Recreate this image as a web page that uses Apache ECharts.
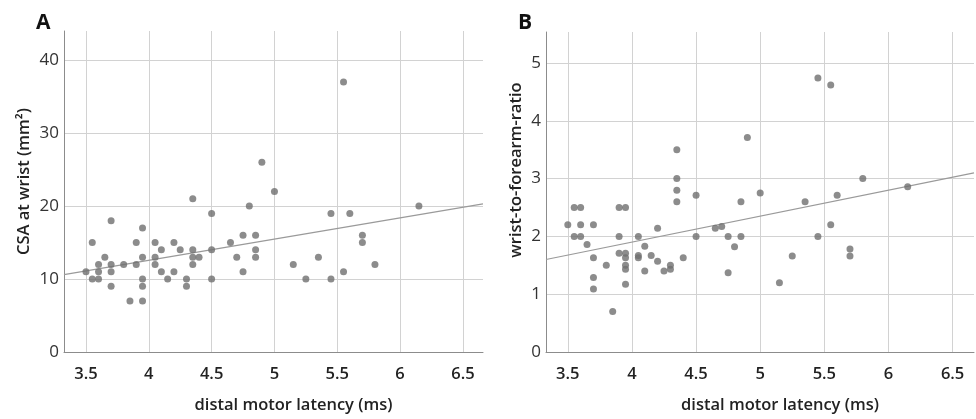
<!DOCTYPE html>
<html>
<head>
<meta charset="utf-8">
<script src="https://cdn.jsdelivr.net/npm/echarts@6/dist/echarts.min.js"></script>
<style>
  html, body { margin: 0; padding: 0; background: #fff; }
  #chart { width: 976px; height: 419px; }
</style>
</head>
<body>
<div id="chart"></div>
<script>
// panel A: distal motor latency (ms) vs CSA at wrist (mm2)
var dmlA = [3.5, 3.55, 3.55, 3.6, 3.6, 3.6, 3.65, 3.7, 3.7, 3.7, 3.7, 3.8, 3.85, 3.9, 3.9,
            3.95, 3.95, 3.95, 3.95, 3.95, 4.05, 4.05, 4.05, 4.1, 4.1, 4.15, 4.2, 4.2, 4.25,
            4.3, 4.3, 4.35, 4.35, 4.35, 4.35, 4.4, 4.5, 4.5, 4.5, 4.65, 4.7, 4.75, 4.75, 4.8,
            4.85, 4.85, 4.85, 4.9, 5.0, 5.15, 5.25, 5.35, 5.45, 5.45, 5.55, 5.55, 5.6, 5.7,
            5.7, 5.8, 6.15];
var csaA = [11, 15, 10, 10, 11, 12, 13, 18, 12, 11, 9, 12, 7, 15, 12,
            17, 13, 10, 9, 7, 15, 13, 12, 14, 11, 10, 15, 11, 14,
            10, 9, 21, 14, 13, 12, 13, 19, 14, 10, 15, 13, 16, 11, 20,
            16, 14, 13, 26, 22, 12, 10, 13, 19, 10, 11, 37, 19, 16,
            15, 12, 20];

// panel B: distal motor latency (ms) vs wrist-to-forearm-ratio
var dmlB = [3.5, 3.55, 3.6, 3.55, 3.6, 3.6, 3.65, 3.7, 3.7, 3.7, 3.7, 3.8, 3.85, 3.9, 3.95,
            3.9, 3.9, 3.95, 3.95, 3.95, 3.95, 3.95, 4.05, 4.05, 4.05, 4.1, 4.1, 4.15, 4.2,
            4.2, 4.25, 4.3, 4.3, 4.35, 4.35, 4.35, 4.35, 4.4, 4.5, 4.5, 4.65, 4.7, 4.75, 4.75,
            4.8, 4.85, 4.85, 4.9, 5.0, 5.15, 5.25, 5.35, 5.45, 5.45, 5.55, 5.55, 5.6, 5.7,
            5.7, 5.8, 6.15];
var ratioB = [2.2, 2.5, 2.5, 2.0, 2.2, 2.0, 1.86, 2.2, 1.63, 1.29, 1.09, 1.5, 0.7, 2.5, 2.5,
              2.0, 1.71, 1.71, 1.63, 1.5, 1.43, 1.17, 2.0, 1.67, 1.63, 1.83, 1.4, 1.67, 2.14,
              1.57, 1.4, 1.5, 1.43, 3.5, 3.0, 2.8, 2.6, 1.63, 2.71, 2.0, 2.14, 2.17, 2.0, 1.37,
              1.82, 2.6, 2.0, 3.71, 2.75, 1.2, 1.66, 2.6, 2.0, 4.74, 2.2, 4.62, 2.71, 1.78,
              1.66, 3.0, 2.86];

// fit lines
var fitA = [[3.325, 10.6], [6.66, 20.3]];
var fitB = [[3.33, 1.6], [6.667, 3.1]];

var xTicks = [3.5, 4, 4.5, 5, 5.5, 6, 6.5];
var yTicksA = [0, 10, 20, 30, 40];
var yTicksB = [0, 1, 2, 3, 4, 5];

function pairs(xs, ys) {
    var out = [];
    for (var i = 0; i < xs.length && i < ys.length; i++) {
        out.push([xs[i], ys[i]]);
    }
    return out;
}

var font = 'Open Sans';
var gridColor = '#d2d2d2';
var axisColor = '#8c8c8c';

function xAxisOpt(idx, min, max) {
    return {
        type: 'value', gridIndex: idx, min: min, max: max,
        name: 'distal motor latency (ms)',
        nameLocation: 'middle', nameGap: 45,
        nameTextStyle: { fontFamily: font, fontWeight: 600, fontSize: 16.5, color: '#222', padding: [0, 0, 0, 40] },
        axisLine: { show: true, onZero: false, lineStyle: { color: axisColor } },
        axisTick: { show: false, customValues: xTicks },
        axisLabel: { customValues: xTicks, margin: 14, fontFamily: font, fontWeight: 600, fontSize: 16.5, color: '#222' },
        splitLine: { show: true, lineStyle: { color: gridColor, width: 1 } }
    };
}

function yAxisOpt(idx, max, ticks, name, gap, shift) {
    return {
        type: 'value', gridIndex: idx, min: 0, max: max,
        name: name,
        nameLocation: 'middle', nameGap: gap,
        nameTextStyle: { fontFamily: font, fontWeight: 600, fontSize: 16.5, color: '#222', padding: [0, 0, 0, shift] },
        axisLine: { show: true, lineStyle: { color: axisColor } },
        axisTick: { show: false, customValues: ticks },
        axisLabel: { customValues: ticks, margin: 5, fontFamily: font, fontSize: 17, color: '#333' },
        splitLine: { show: true, lineStyle: { color: gridColor, width: 1 } }
    };
}

var myChart = echarts.init(document.getElementById('chart'));

var option = {
    animation: false,
    grid: [
        { left: 64, top: 31, width: 419, height: 322 },
        { left: 546, top: 32, width: 428, height: 323 }
    ],
    xAxis: [xAxisOpt(0, 3.325, 6.66), xAxisOpt(1, 3.33, 6.667)],
    yAxis: [
        yAxisOpt(0, 44, yTicksA, 'CSA at wrist (mm²)', 31, 20),
        yAxisOpt(1, 5.536, yTicksB, 'wrist-to-forearm-ratio', 21, 44)
    ],
    graphic: [
        { type: 'text', left: 36, top: 13, style: { text: 'A', fontFamily: font, fontWeight: 'bold', fontSize: 21, fill: '#111' } },
        { type: 'text', left: 518, top: 13, style: { text: 'B', fontFamily: font, fontWeight: 'bold', fontSize: 21, fill: '#111' } }
    ],
    series: [
        {
            type: 'line', xAxisIndex: 0, yAxisIndex: 0, data: fitA,
            symbol: 'none', lineStyle: { color: '#9a9a9a', width: 1.2 }, z: 1
        },
        {
            type: 'scatter', xAxisIndex: 0, yAxisIndex: 0, data: pairs(dmlA, csaA),
            symbolSize: 7, itemStyle: { color: '#6f6f6f' }, z: 2
        },
        {
            type: 'line', xAxisIndex: 1, yAxisIndex: 1, data: fitB,
            symbol: 'none', lineStyle: { color: '#9a9a9a', width: 1.2 }, z: 1
        },
        {
            type: 'scatter', xAxisIndex: 1, yAxisIndex: 1, data: pairs(dmlB, ratioB),
            symbolSize: 7, itemStyle: { color: '#6f6f6f' }, z: 2
        }
    ]
};

myChart.setOption(option);
</script>
</body>
</html>
